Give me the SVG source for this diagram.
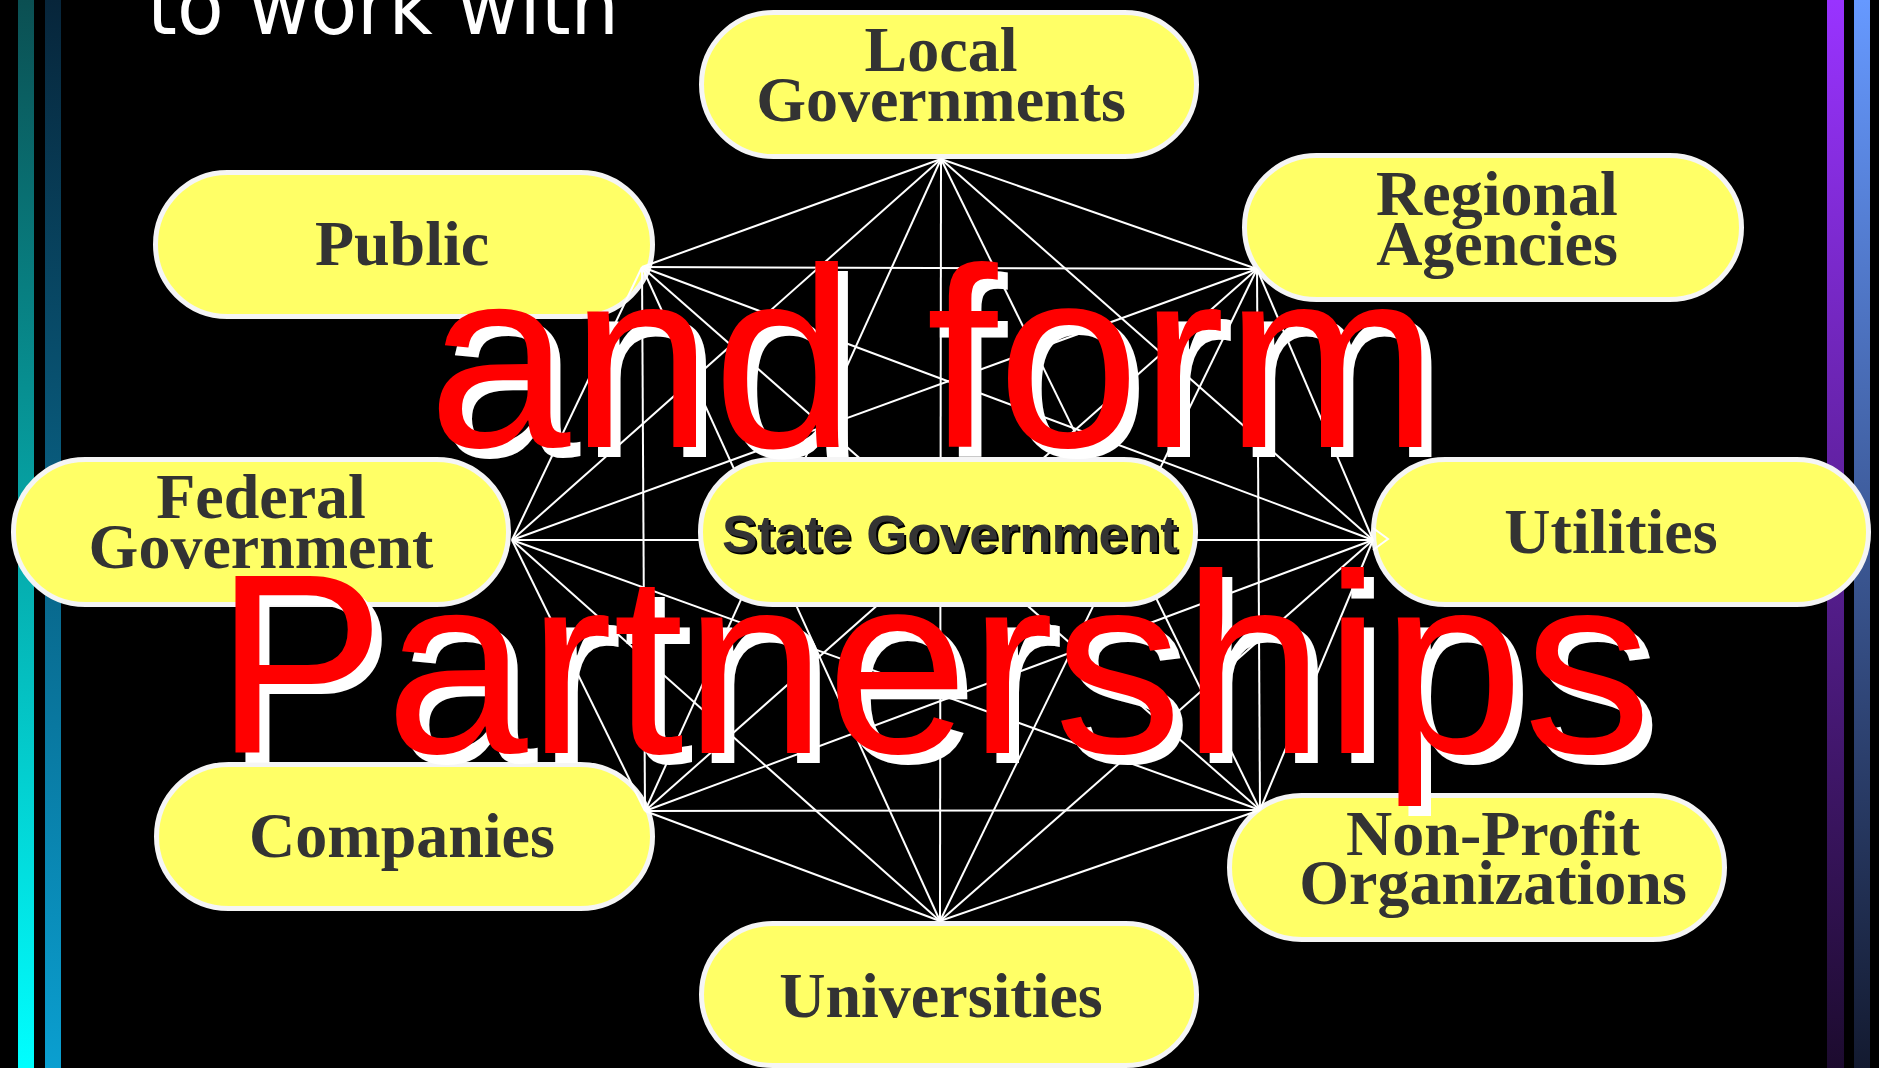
<svg xmlns="http://www.w3.org/2000/svg" width="1879" height="1068" viewBox="0 0 1879 1068">
<defs>
<linearGradient id="gL1" x1="0" y1="0" x2="0" y2="1"><stop offset="0" stop-color="#0b4f52"/><stop offset="1" stop-color="#00ffff"/></linearGradient>
<linearGradient id="gL2" x1="0" y1="0" x2="0" y2="1"><stop offset="0" stop-color="#07253a"/><stop offset="1" stop-color="#0a9fd0"/></linearGradient>
<linearGradient id="gR1" x1="0" y1="0" x2="0" y2="1"><stop offset="0" stop-color="#9933ff"/><stop offset="1" stop-color="#1c0b2e"/></linearGradient>
<linearGradient id="gR2" x1="0" y1="0" x2="0" y2="1"><stop offset="0" stop-color="#6699ff"/><stop offset="1" stop-color="#131a30"/></linearGradient>
<style>
.pill{fill:#ffff66;stroke:#f5f5f5;stroke-width:5}
.lbl{font-family:"Liberation Serif","Times New Roman",serif;font-weight:bold;font-size:64px;fill:#333333;text-anchor:middle}
.sg{font-family:"Liberation Sans",Arial,sans-serif;font-weight:bold;font-size:52px;text-anchor:middle}
.big{font-family:"Liberation Sans",Arial,sans-serif;font-size:256px;text-anchor:middle}
#connectors line{stroke:#ffffff;stroke-width:2}
</style>
</defs>
<rect x="0" y="0" width="1879" height="1068" fill="#000000"/>
<g id="bars">
<rect x="18" y="0" width="16" height="1068" fill="url(#gL1)"/>
<rect x="45" y="0" width="16" height="1068" fill="url(#gL2)"/>
<rect x="1827" y="0" width="17" height="1068" fill="url(#gR1)"/>
<rect x="1854" y="0" width="16" height="1068" fill="url(#gR2)"/>
</g>
<text id="title" x="147" y="34" font-family="'DejaVu Sans',Verdana,sans-serif" font-size="80" fill="#ffffff" textLength="472" lengthAdjust="spacingAndGlyphs">to work with</text>
<g id="node-local"><rect class="pill" x="701.5" y="12.5" width="495" height="144" rx="72"/><text class="lbl" x="941" y="71">Local</text><text class="lbl" x="941" y="121">Governments</text></g>
<g id="node-public"><rect class="pill" x="155.5" y="172.5" width="497" height="144" rx="72"/><text class="lbl" x="402" y="265">Public</text></g>
<g id="node-regional"><rect class="pill" x="1244.5" y="155.5" width="497" height="144" rx="72"/><text class="lbl" x="1497" y="215">Regional</text><text class="lbl" x="1497" y="265">Agencies</text></g>
<g id="node-federal"><rect class="pill" x="13.5" y="459.5" width="495" height="145" rx="72"/><text class="lbl" x="261" y="518">Federal</text><text class="lbl" x="261" y="568">Government</text></g>
<g id="node-utilities"><rect class="pill" x="1373.5" y="459.5" width="495" height="145" rx="72"/><text class="lbl" x="1611" y="553">Utilities</text></g>
<g id="node-companies"><rect class="pill" x="156.5" y="764.5" width="496" height="144" rx="72"/><text class="lbl" x="402" y="857">Companies</text></g>
<g id="node-nonprofit"><rect class="pill" x="1229.5" y="795.5" width="495" height="144" rx="72"/><text class="lbl" x="1493" y="855">Non-Profit</text><text class="lbl" x="1493" y="904">Organizations</text></g>
<g id="node-universities"><rect class="pill" x="701.5" y="923.5" width="495" height="142" rx="71"/><text class="lbl" x="941" y="1017">Universities</text></g>
<g id="connectors">
<line x1="642" y1="267" x2="941" y2="159"/>
<line x1="642" y1="267" x2="1257" y2="269"/>
<line x1="642" y1="267" x2="1373" y2="540"/>
<line x1="642" y1="267" x2="1260" y2="810"/>
<line x1="642" y1="267" x2="940" y2="921"/>
<line x1="642" y1="267" x2="645" y2="811"/>
<line x1="642" y1="267" x2="512" y2="540"/>
<line x1="941" y1="159" x2="1257" y2="269"/>
<line x1="941" y1="159" x2="1373" y2="540"/>
<line x1="941" y1="159" x2="1260" y2="810"/>
<line x1="941" y1="159" x2="940" y2="921"/>
<line x1="941" y1="159" x2="645" y2="811"/>
<line x1="941" y1="159" x2="512" y2="540"/>
<line x1="1257" y1="269" x2="1373" y2="540"/>
<line x1="1257" y1="269" x2="1260" y2="810"/>
<line x1="1257" y1="269" x2="940" y2="921"/>
<line x1="1257" y1="269" x2="645" y2="811"/>
<line x1="1257" y1="269" x2="512" y2="540"/>
<line x1="1373" y1="540" x2="1260" y2="810"/>
<line x1="1373" y1="540" x2="940" y2="921"/>
<line x1="1373" y1="540" x2="645" y2="811"/>
<line x1="1373" y1="540" x2="512" y2="540"/>
<line x1="1260" y1="810" x2="940" y2="921"/>
<line x1="1260" y1="810" x2="645" y2="811"/>
<line x1="1260" y1="810" x2="512" y2="540"/>
<line x1="940" y1="921" x2="645" y2="811"/>
<line x1="940" y1="921" x2="512" y2="540"/>
<line x1="645" y1="811" x2="512" y2="540"/>
<polyline points="1373,528 1388,539 1373,550" fill="none" stroke="#ffffff" stroke-width="2"/>
</g>
<g id="node-state"><rect class="pill" x="700.5" y="459.5" width="495" height="145" rx="72"/><text class="sg" x="952" y="554" fill="#000000" textLength="456" lengthAdjust="spacingAndGlyphs">State Government</text><text class="sg" x="950" y="552" fill="#333333" textLength="456" lengthAdjust="spacingAndGlyphs">State Government</text></g>
<g id="heading">
<text class="big" x="943" y="457" fill="#ffffff">and form</text>
<text class="big" x="933" y="447" fill="#ff0000">and form</text>
<text class="big" x="943" y="763" fill="#ffffff">Partnerships</text>
<text class="big" x="933" y="753" fill="#ff0000">Partnerships</text>
</g>
</svg>
